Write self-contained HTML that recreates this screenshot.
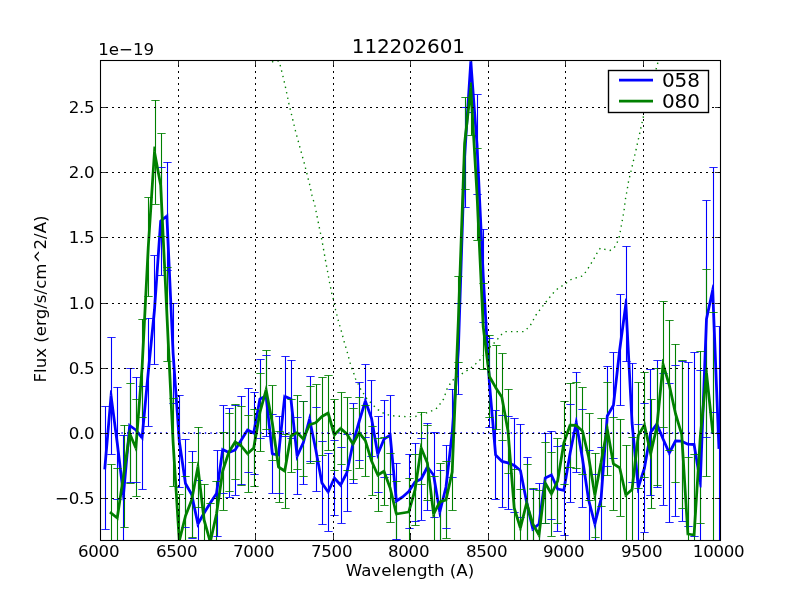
<!DOCTYPE html>
<html><head><meta charset="utf-8"><title>112202601</title>
<style>html,body{margin:0;padding:0;background:#fff}svg{display:block;will-change:transform}text{font-family:"DejaVu Sans","Liberation Sans",sans-serif;fill:#000}</style>
</head><body>
<svg width="800" height="600" viewBox="0 0 800 600">
<rect x="0" y="0" width="800" height="600" fill="#ffffff"/>
<defs><clipPath id="ax"><rect x="100" y="60" width="620" height="480"/></clipPath></defs>
<g clip-path="url(#ax)">
<path d="M105.50 406.50V529.50M111.50 337.40V454.40M117.50 387.00V499.00M123.50 435.00V555.00M130.50 368.50V482.50M136.50 377.50V482.50M142.50 386.20V489.40M148.50 318.00V426.00M154.50 255.50V364.50M161.50 167.00V275.00M167.50 162.00V270.00M173.50 303.00V403.00M179.50 395.00V487.00M185.50 439.50V527.50M192.50 451.00V538.00M198.50 480.00V568.00M217.50 450.40V536.40M223.50 405.50V493.50M229.50 408.00V497.00M235.50 405.00V495.00M241.50 396.00V484.00M248.50 388.00V472.00M254.50 392.00V474.00M260.50 359.40V438.60M266.50 355.40V436.60M272.50 414.60V493.20M279.50 416.50V493.50M285.50 356.60V436.20M291.50 360.00V438.00M297.50 417.70V494.70M303.50 401.00V484.40M310.50 376.50V461.50M316.50 407.50V491.50M322.50 441.30V524.70M328.50 453.00V531.00M334.50 440.30V515.70M341.50 447.00V523.00M347.50 434.30V511.70M353.50 403.60V483.60M359.50 382.50V460.50M365.50 364.50V437.50M371.50 380.50V456.50M378.50 416.60V492.00M384.50 400.60V477.80M390.50 395.80V474.60M396.50 463.00V539.00M409.50 454.20V528.80M415.50 443.00V521.00M421.50 438.00V520.00M427.50 423.60V510.40M434.50 432.50V517.50M440.50 470.00V554.00M446.50 445.50V528.50M452.50 389.00V477.00M458.50 303.50V394.50M465.50 107.00V207.00M471.50 10.50V112.50M477.50 94.90V194.10M483.50 229.00V322.00M489.50 338.40V427.40M495.50 410.50V499.50M502.50 415.20V507.40M508.50 416.30V509.50M514.50 418.40V512.40M520.50 424.00V517.00M527.50 457.40V546.60M533.50 489.40V568.60M539.50 483.40V564.60M545.50 433.00V523.00M551.50 431.00V519.00M557.50 446.50V531.50M564.50 445.40V535.40M570.50 404.50V502.30M576.50 372.50V472.50M582.50 409.50V507.50M589.50 450.00V550.00M595.50 474.00V574.00M601.50 447.00V551.00M607.50 366.00V466.00M613.50 352.40V458.00M620.50 294.50V405.50M626.50 246.20V361.80M632.50 363.40V482.60M638.50 424.50V550.50M644.50 403.50V532.50M650.50 369.40V495.40M657.50 360.40V487.60M663.50 373.00V505.00M669.50 383.50V522.50M675.50 365.50V516.50M682.50 361.40V521.00M688.50 362.40V526.00M694.50 352.50V536.50M700.50 370.40V593.60M706.50 200.50V437.50M713.50 167.50V412.50M719.50 326.50V568.50" stroke="#0000ff" stroke-width="1.1" fill="none"/>
<path d="M111.50 464.40V561.60M117.50 468.40V567.60M124.50 425.00V527.00M130.50 383.90V483.10M136.50 399.40V496.60M142.50 319.00V417.00M148.50 197.40V296.60M155.50 100.00V204.00M161.50 133.50V236.50M167.50 267.00V361.00M173.50 398.00V486.00M179.50 494.50V587.50M185.50 476.00V556.00M192.50 462.40V537.60M198.50 427.00V507.00M204.50 484.30V555.70M210.50 503.00V581.00M216.50 481.00V547.00M223.50 432.00V510.00M229.50 413.00V491.00M235.50 404.40V479.60M241.50 406.40V485.60M248.50 415.40V492.00M254.50 409.50V486.50M260.50 373.40V451.60M266.50 350.40V429.40M272.50 385.70V460.30M279.50 431.40V502.60M285.50 434.00V508.00M291.50 399.50V472.50M297.50 395.60V469.60M303.50 401.20V476.80M310.50 386.40V463.00M316.50 384.40V461.00M322.50 377.50V455.50M328.50 375.50V450.50M334.50 399.40V470.60M341.50 392.40V464.40M347.50 397.40V470.00M353.50 408.40V479.60M359.50 397.40V468.00M365.50 405.00V476.40M372.50 426.50V495.50M378.50 438.60V511.40M384.50 437.50V505.10M390.50 453.50V522.50M396.50 481.00V547.00M409.50 478.20V545.80M415.50 454.50V525.50M421.50 412.00V484.00M427.50 425.40V500.60M434.50 476.40V551.60M440.50 463.40V540.60M446.50 461.40V538.60M452.50 433.60V510.40M458.50 276.50V362.50M465.50 97.50V189.50M471.50 41.00V135.00M477.50 148.00V240.00M483.50 283.50V369.50M489.50 335.50V417.50M496.50 345.50V429.30M502.50 353.60V440.40M508.50 389.00V473.00M514.50 469.60V546.40M520.50 489.00V567.00M527.50 464.40V541.60M533.50 488.00V560.00M539.50 490.40V579.60M545.50 442.50V523.50M551.50 452.00V536.00M557.50 438.50V523.50M564.50 401.60V484.40M570.50 383.10V467.30M576.50 382.50V468.50M582.50 387.40V474.60M589.50 413.50V500.50M595.50 453.00V537.20M601.50 418.50V506.30M607.50 382.60V475.40M613.50 417.50V510.30M620.50 419.30V516.10M626.50 445.00V545.00M632.50 437.50V541.50M638.50 382.40V488.40M644.50 372.40V477.60M651.50 399.40V508.00M657.50 368.00V485.00M663.50 301.40V427.40M669.50 320.00V450.00M675.50 344.10V482.90M682.50 360.60V508.00M688.50 457.00V611.00M694.50 454.00V616.00M700.50 351.00V523.00M706.50 269.50V476.50M713.50 312.40V551.60" stroke="#008000" stroke-width="1.1" fill="none"/>
<polyline points="104.85,468.00 111.05,395.90 117.25,443.00 123.46,495.00 129.66,425.50 135.86,430.00 142.06,437.80 148.27,372.00 154.47,310.00 160.67,221.00 166.88,216.00 173.08,353.00 179.28,441.00 185.48,483.50 191.69,494.50 197.89,524.00 204.09,513.00 210.29,503.00 216.50,493.40 222.70,449.50 228.90,452.50 235.10,450.00 241.30,440.00 247.51,430.00 253.71,433.00 259.91,399.00 266.12,396.00 272.32,453.90 278.52,455.00 284.72,396.40 290.92,399.00 297.13,456.20 303.33,442.70 309.53,419.00 315.74,449.50 321.94,483.00 328.14,492.00 334.34,478.00 340.54,485.00 346.75,473.00 352.95,443.60 359.15,421.50 365.36,401.00 371.56,418.50 377.76,454.30 383.96,439.20 390.16,435.20 396.37,501.00 402.57,497.00 408.77,491.50 414.98,482.00 421.18,479.00 427.38,467.00 433.58,475.00 439.78,512.00 445.99,487.00 452.19,433.00 458.39,349.00 464.60,157.00 470.80,61.50 477.00,144.50 483.20,275.50 489.40,382.90 495.61,455.00 501.81,461.30 508.01,462.90 514.21,465.40 520.42,470.50 526.62,502.00 532.82,529.00 539.02,524.00 545.23,478.00 551.43,475.00 557.63,489.00 563.83,490.40 570.04,453.40 576.24,422.50 582.44,458.50 588.64,500.00 594.85,524.00 601.05,499.00 607.25,416.00 613.45,405.20 619.66,350.00 625.86,304.00 632.06,423.00 638.26,487.50 644.47,468.00 650.67,432.40 656.87,424.00 663.08,439.00 669.28,453.00 675.48,441.00 681.68,441.20 687.88,444.20 694.09,444.50 700.29,482.00 706.49,319.00 712.69,290.00 718.90,447.50" stroke="#0000ff" stroke-width="2.78" fill="none" stroke-linejoin="bevel" stroke-linecap="square"/>
<path d="M109.67 395.78L110.13 390.36L111.72 390.32L112.43 395.72ZM118.63 442.82L118.63 442.83L118.64 442.84ZM122.08 495.16L122.72 500.57L124.36 500.55L124.84 495.12ZM128.28 425.38L128.49 422.94L130.48 424.37ZM136.68 428.87L136.83 428.99L136.95 429.13ZM140.98 438.67L143.12 441.37L143.45 437.93ZM146.88 371.87L146.88 371.87L146.88 371.86ZM155.85 310.14L155.86 310.12L155.86 310.10ZM159.29 220.90L159.33 220.30L159.80 219.92ZM166.00 214.92L168.14 213.20L168.26 215.94ZM171.69 353.06L171.69 353.08L171.69 353.10ZM177.89 441.10L177.90 441.15L177.90 441.20ZM184.11 483.70L184.14 483.96L184.27 484.18ZM192.90 493.82L193.00 494.00L193.05 494.21ZM196.53 524.29L197.29 527.90L199.10 524.68ZM202.88 512.32L202.89 512.29L202.91 512.27ZM209.11 502.27L209.12 502.26L209.12 502.25ZM217.66 494.15L217.83 493.90L217.87 493.59ZM221.32 449.31L221.59 447.42L223.30 448.25ZM228.29 453.75L228.85 454.02L229.42 453.79ZM235.62 451.29L236.04 451.12L236.28 450.73ZM246.33 429.27L246.99 428.20L248.11 428.75ZM253.10 434.25L254.75 435.05L255.08 433.25ZM258.55 398.75L258.67 398.06L259.31 397.75ZM265.51 394.75L267.29 393.89L267.50 395.85ZM270.94 454.05L271.05 455.09L272.07 455.27ZM278.28 456.37L279.75 456.63L279.90 455.15ZM283.34 396.25L283.54 394.40L285.26 395.12ZM291.46 397.72L292.22 398.04L292.31 398.85ZM295.75 456.35L296.29 461.36L298.39 456.78ZM304.59 443.28L304.64 443.17L304.67 443.05ZM308.19 418.65L309.55 413.44L309.82 413.45L310.89 418.72ZM317.10 449.22L317.10 449.23L317.10 449.25ZM320.57 483.25L320.62 483.54L320.79 483.79ZM327.00 492.79L328.40 494.83L329.41 492.56ZM333.07 477.44L333.95 475.46L335.38 477.08ZM339.50 485.92L340.85 487.44L341.78 485.64ZM347.98 473.64L348.07 473.47L348.11 473.29ZM351.59 443.31L351.60 443.27L351.61 443.22ZM357.81 421.12L357.82 421.11L357.82 421.10ZM364.02 400.60L365.25 396.54L366.67 400.54ZM372.87 418.04L372.91 418.15L372.93 418.26ZM376.39 454.54L377.21 459.29L379.05 454.83ZM382.68 438.67L382.84 438.27L383.21 438.03ZM389.41 434.03L391.33 432.79L391.55 435.07ZM394.98 501.13L395.20 503.41L397.12 502.17ZM403.32 498.17L403.41 498.11L403.49 498.04ZM409.69 492.54L409.83 492.42L409.94 492.26ZM413.81 481.24L414.02 480.92L414.37 480.75ZM421.78 480.25L422.20 480.05L422.41 479.64ZM426.15 466.36L427.14 464.43L428.48 466.15ZM434.68 474.15L434.90 474.42L434.95 474.77ZM438.41 512.23L439.31 517.55L439.84 517.57L441.13 512.33ZM447.34 487.33L447.36 487.25L447.37 487.16ZM453.57 433.16L453.57 433.13L453.58 433.10ZM459.78 349.10L459.78 349.07L459.78 349.04ZM463.21 156.96L463.21 156.93L463.21 156.91ZM469.41 61.41L469.77 55.94L471.78 55.94L472.18 61.40ZM478.39 144.40L478.39 144.42L478.39 144.43ZM481.81 275.57L481.81 275.57L481.81 275.58ZM488.02 382.98L488.02 383.00L488.02 383.02ZM494.22 455.12L494.27 455.62L494.62 455.98ZM500.82 462.28L501.09 462.55L501.46 462.65ZM508.36 461.55L508.45 461.58L508.53 461.61ZM514.73 464.11L514.93 464.19L515.10 464.33ZM521.30 469.43L521.69 469.74L521.78 470.23ZM525.26 502.27L525.26 502.29L525.27 502.31ZM531.47 529.31L531.97 531.48L533.69 530.08ZM539.90 525.08L540.33 524.73L540.40 524.19ZM543.85 477.81L543.95 477.07L544.62 476.75ZM550.82 473.75L552.12 473.12L552.70 474.44ZM556.36 489.56L556.64 490.20L557.33 490.36ZM563.53 491.76L564.96 492.08L565.21 490.63ZM568.67 453.17L568.67 453.15L568.67 453.13ZM574.88 422.23L575.94 416.94L576.69 416.95L577.61 422.26ZM583.81 458.26L583.81 458.28L583.82 458.29ZM587.27 500.21L587.28 500.28L587.30 500.35ZM593.50 524.35L594.85 529.56L594.90 529.56L596.20 524.33ZM602.40 499.33L602.43 499.22L602.44 499.10ZM605.87 415.90L605.89 415.58L606.05 415.31ZM614.66 405.89L614.80 405.64L614.84 405.36ZM618.28 349.84L618.28 349.83L618.28 349.81ZM624.48 303.81L625.21 298.41L626.96 298.48L627.25 303.93ZM630.67 423.07L630.68 423.10L630.68 423.13ZM636.88 487.63L637.40 493.00L637.96 493.06L639.59 487.92ZM645.79 468.42L645.82 468.33L645.84 468.24ZM649.30 432.16L649.36 431.84L649.55 431.57ZM655.75 423.17L657.22 421.19L658.16 423.47ZM661.79 439.53L661.80 439.55L661.80 439.56ZM668.01 453.56L669.18 456.21L670.51 453.64ZM674.25 440.36L674.65 439.58L675.52 439.61ZM681.73 439.81L682.02 439.82L682.29 439.95ZM687.28 445.45L687.53 445.57L687.82 445.59ZM694.15 443.11L695.28 443.17L695.46 444.27ZM698.92 482.23L699.81 487.60L701.47 487.50L701.68 482.05ZM705.10 318.95L705.11 318.83L705.13 318.71ZM711.34 289.71L712.47 284.40L713.87 284.52L714.08 289.95Z" fill="#0000ff" stroke="none"/>
<path d="M101.33 406.5h8.34M101.33 529.5h8.34M107.33 337.5h8.34M107.33 454.5h8.34M113.33 387.5h8.34M113.33 499.5h8.34M119.33 435.5h8.34M119.33 555.5h8.34M126.33 368.5h8.34M126.33 482.5h8.34M132.33 377.5h8.34M132.33 482.5h8.34M138.33 386.5h8.34M138.33 489.5h8.34M144.33 318.5h8.34M144.33 426.5h8.34M150.33 255.5h8.34M150.33 364.5h8.34M157.33 167.5h8.34M157.33 275.5h8.34M163.33 162.5h8.34M163.33 270.5h8.34M169.33 303.5h8.34M169.33 403.5h8.34M175.33 395.5h8.34M175.33 487.5h8.34M181.33 439.5h8.34M181.33 527.5h8.34M188.33 451.5h8.34M188.33 538.5h8.34M194.33 480.5h8.34M194.33 568.5h8.34M213.33 450.5h8.34M213.33 536.5h8.34M219.33 405.5h8.34M219.33 493.5h8.34M225.33 408.5h8.34M225.33 497.5h8.34M231.33 405.5h8.34M231.33 495.5h8.34M237.33 396.5h8.34M237.33 484.5h8.34M244.33 388.5h8.34M244.33 472.5h8.34M250.33 392.5h8.34M250.33 474.5h8.34M256.33 359.5h8.34M256.33 438.5h8.34M262.33 355.5h8.34M262.33 436.5h8.34M268.33 414.5h8.34M268.33 493.5h8.34M275.33 416.5h8.34M275.33 493.5h8.34M281.33 356.5h8.34M281.33 436.5h8.34M287.33 360.5h8.34M287.33 438.5h8.34M293.33 417.5h8.34M293.33 494.5h8.34M299.33 401.5h8.34M299.33 484.5h8.34M306.33 376.5h8.34M306.33 461.5h8.34M312.33 407.5h8.34M312.33 491.5h8.34M318.33 441.5h8.34M318.33 524.5h8.34M324.33 453.5h8.34M324.33 531.5h8.34M330.33 440.5h8.34M330.33 515.5h8.34M337.33 447.5h8.34M337.33 523.5h8.34M343.33 434.5h8.34M343.33 511.5h8.34M349.33 403.5h8.34M349.33 483.5h8.34M355.33 382.5h8.34M355.33 460.5h8.34M361.33 364.5h8.34M361.33 437.5h8.34M367.33 380.5h8.34M367.33 456.5h8.34M374.33 416.5h8.34M374.33 492.5h8.34M380.33 400.5h8.34M380.33 477.5h8.34M386.33 395.5h8.34M386.33 474.5h8.34M392.33 463.5h8.34M392.33 539.5h8.34M405.33 454.5h8.34M405.33 528.5h8.34M411.33 443.5h8.34M411.33 521.5h8.34M417.33 438.5h8.34M417.33 520.5h8.34M423.33 423.5h8.34M423.33 510.5h8.34M430.33 432.5h8.34M430.33 517.5h8.34M436.33 470.5h8.34M436.33 554.5h8.34M442.33 445.5h8.34M442.33 528.5h8.34M448.33 389.5h8.34M448.33 477.5h8.34M454.33 303.5h8.34M454.33 394.5h8.34M461.33 107.5h8.34M461.33 207.5h8.34M467.33 10.5h8.34M467.33 112.5h8.34M473.33 94.5h8.34M473.33 194.5h8.34M479.33 229.5h8.34M479.33 322.5h8.34M485.33 338.5h8.34M485.33 427.5h8.34M491.33 410.5h8.34M491.33 499.5h8.34M498.33 415.5h8.34M498.33 507.5h8.34M504.33 416.5h8.34M504.33 509.5h8.34M510.33 418.5h8.34M510.33 512.5h8.34M516.33 424.5h8.34M516.33 517.5h8.34M523.33 457.5h8.34M523.33 546.5h8.34M529.33 489.5h8.34M529.33 568.5h8.34M535.33 483.5h8.34M535.33 564.5h8.34M541.33 433.5h8.34M541.33 523.5h8.34M547.33 431.5h8.34M547.33 519.5h8.34M553.33 446.5h8.34M553.33 531.5h8.34M560.33 445.5h8.34M560.33 535.5h8.34M566.33 404.5h8.34M566.33 502.5h8.34M572.33 372.5h8.34M572.33 472.5h8.34M578.33 409.5h8.34M578.33 507.5h8.34M585.33 450.5h8.34M585.33 550.5h8.34M591.33 474.5h8.34M591.33 574.5h8.34M597.33 447.5h8.34M597.33 551.5h8.34M603.33 366.5h8.34M603.33 466.5h8.34M609.33 352.5h8.34M609.33 458.5h8.34M616.33 294.5h8.34M616.33 405.5h8.34M622.33 246.5h8.34M622.33 361.5h8.34M628.33 363.5h8.34M628.33 482.5h8.34M634.33 424.5h8.34M634.33 550.5h8.34M640.33 403.5h8.34M640.33 532.5h8.34M646.33 369.5h8.34M646.33 495.5h8.34M653.33 360.5h8.34M653.33 487.5h8.34M659.33 373.5h8.34M659.33 505.5h8.34M665.33 383.5h8.34M665.33 522.5h8.34M671.33 365.5h8.34M671.33 516.5h8.34M678.33 361.5h8.34M678.33 521.5h8.34M684.33 362.5h8.34M684.33 526.5h8.34M690.33 352.5h8.34M690.33 536.5h8.34M696.33 370.5h8.34M696.33 593.5h8.34M702.33 200.5h8.34M702.33 437.5h8.34M709.33 167.5h8.34M709.33 412.5h8.34M715.33 326.5h8.34M715.33 568.5h8.34" stroke="#0000ff" stroke-width="1" stroke-opacity="0.85" fill="none"/>
<path d="M121.4 432.95H720" stroke="#0000ff" stroke-width="1.39" stroke-dasharray="1.39 4.17" fill="none"/>
<polyline points="111.05,513.00 117.25,518.00 123.46,476.00 129.66,433.50 135.86,448.00 142.06,368.00 148.27,247.00 154.47,152.00 160.67,185.00 166.88,314.00 173.08,442.00 179.28,541.00 185.48,516.00 191.69,500.00 197.89,467.00 204.09,520.00 210.29,542.00 216.50,514.00 222.70,471.00 228.90,452.00 235.10,442.00 241.30,446.00 247.51,453.70 253.71,448.00 259.91,412.50 266.12,389.90 272.32,423.00 278.52,467.00 284.72,471.00 290.92,436.00 297.13,432.60 303.33,439.00 309.53,424.70 315.74,422.70 321.94,416.50 328.14,413.00 334.34,435.00 340.54,428.40 346.75,433.70 352.95,444.00 359.15,432.70 365.36,440.70 371.56,461.00 377.76,475.00 383.96,471.30 390.16,488.00 396.37,514.00 402.57,513.00 408.77,512.00 414.98,490.00 421.18,448.00 427.38,463.00 433.58,514.00 439.78,502.00 445.99,500.00 452.19,472.00 458.39,319.50 464.60,143.50 470.80,88.00 477.00,194.00 483.20,326.50 489.40,376.50 495.61,387.40 501.81,397.00 508.01,431.00 514.21,508.00 520.42,528.00 526.62,503.00 532.82,524.00 539.02,535.00 545.23,483.00 551.43,494.00 557.63,481.00 563.83,443.00 570.04,425.20 576.24,425.50 582.44,431.00 588.64,457.00 594.85,495.10 601.05,462.40 607.25,429.00 613.45,463.90 619.66,467.70 625.86,495.00 632.06,489.50 638.26,435.40 644.47,425.00 650.67,453.70 656.87,426.50 663.08,364.40 669.28,385.00 675.48,413.50 681.68,434.30 687.88,534.00 694.09,535.00 700.29,437.00 706.49,373.00 712.69,432.00" stroke="#008000" stroke-width="2.78" fill="none" stroke-linejoin="bevel" stroke-linecap="square"/>
<path d="M116.38 519.08L118.27 520.61L118.63 518.20ZM124.83 476.20L124.83 476.20L124.83 476.20ZM128.28 433.30L129.00 428.42L130.94 432.95ZM134.58 448.55L136.70 453.50L136.83 453.48L137.25 448.11ZM143.45 368.11L143.45 368.09L143.45 368.07ZM146.88 246.93L146.88 246.92L146.88 246.91ZM153.08 151.91L153.44 146.49L154.83 146.41L155.84 151.74ZM162.04 184.74L162.06 184.84L162.06 184.93ZM165.49 314.07L165.49 314.07L165.49 314.07ZM171.69 442.07L171.69 442.08L171.69 442.09ZM177.89 541.09L178.23 546.49L179.33 546.59L180.63 541.33ZM184.13 515.67L184.15 515.58L184.19 515.50ZM192.98 500.50L193.03 500.38L193.05 500.26ZM196.52 466.74L197.52 461.42L198.64 461.46L199.27 466.84ZM202.71 520.16L202.72 520.27L202.75 520.38ZM208.95 542.38L210.42 547.56L210.49 547.56L211.65 542.30ZM217.85 514.30L217.86 514.25L217.87 514.20ZM221.32 470.80L221.34 470.68L221.38 470.57ZM227.58 451.57L227.63 451.41L227.72 451.27ZM233.92 441.27L234.67 440.07L235.86 440.83ZM242.06 444.83L242.25 444.95L242.39 445.13ZM246.43 454.57L247.36 455.73L248.45 454.72ZM254.65 449.02L255.00 448.70L255.08 448.24ZM258.54 412.26L258.55 412.20L258.57 412.13ZM264.77 389.53L266.20 384.34L266.49 384.35L267.48 389.64ZM273.68 422.74L273.69 422.77L273.69 422.81ZM277.14 467.19L277.23 467.82L277.77 468.17ZM283.97 472.17L285.73 473.30L286.09 471.24ZM289.56 435.76L289.67 435.10L290.26 434.78ZM296.46 431.38L297.39 430.87L298.13 431.63ZM302.33 439.97L303.78 441.46L304.61 439.55ZM308.26 424.15L308.51 423.57L309.11 423.38ZM316.16 424.02L316.48 423.92L316.72 423.68ZM320.95 415.52L321.09 415.38L321.25 415.29ZM327.46 411.79L329.00 410.92L329.48 412.62ZM333.00 435.38L333.67 437.74L335.36 435.95ZM339.53 427.45L340.44 426.48L341.45 427.34ZM347.65 432.64L347.82 432.79L347.94 432.98ZM351.76 444.72L353.01 446.79L354.17 444.67ZM357.93 432.03L358.95 430.17L360.25 431.85ZM366.45 439.85L366.61 440.05L366.68 440.29ZM370.23 461.41L370.25 461.49L370.29 461.56ZM376.49 475.56L377.12 477.00L378.47 476.19ZM383.25 470.11L384.68 469.25L385.27 470.82ZM391.47 487.52L391.50 487.60L391.52 487.68ZM395.02 514.32L395.31 515.58L396.59 515.37ZM408.99 513.37L409.87 513.23L410.11 512.38ZM416.31 490.38L416.34 490.29L416.35 490.20ZM419.80 447.80L420.54 442.82L422.46 447.47ZM428.66 462.47L428.74 462.64L428.76 462.83ZM432.20 514.17L432.75 518.64L434.82 514.64ZM438.55 501.36L438.81 500.85L439.36 500.68ZM446.41 501.32L447.17 501.08L447.34 500.30ZM453.55 472.30L453.57 472.18L453.58 472.06ZM459.78 319.56L459.78 319.55L459.78 319.55ZM463.21 143.45L463.21 143.40L463.21 143.35ZM469.42 87.85L470.02 82.42L471.87 82.47L472.19 87.92ZM478.39 193.92L478.39 193.93L478.39 193.94ZM481.81 326.56L481.82 326.62L481.82 326.67ZM488.03 376.67L488.06 376.95L488.20 377.19ZM494.40 388.09L494.42 388.12L494.44 388.15ZM502.98 396.25L503.13 396.48L503.18 396.75ZM509.38 430.75L509.39 430.82L509.40 430.89ZM512.83 508.11L512.84 508.26L512.89 508.41ZM519.09 528.41L520.57 533.17L521.77 528.33ZM525.27 502.67L526.50 497.70L527.95 502.61ZM531.49 524.39L531.53 524.55L531.61 524.68ZM537.81 535.68L539.90 539.39L540.41 535.16ZM543.85 482.84L544.35 478.61L546.44 482.32ZM550.22 494.68L551.53 497.01L552.68 494.60ZM558.89 481.60L558.97 481.42L559.00 481.22ZM562.46 442.78L562.48 442.66L562.52 442.54ZM568.72 424.74L569.07 423.76L570.10 423.81ZM576.31 424.11L576.80 424.14L577.16 424.46ZM583.36 429.96L583.69 430.25L583.79 430.68ZM590.00 456.68L590.01 456.73L590.02 456.78ZM593.48 495.32L594.34 500.65L595.21 500.67L596.21 495.36ZM602.42 462.66L602.42 462.66L602.42 462.65ZM605.89 428.75L606.87 423.44L607.68 423.44L608.62 428.76ZM612.09 464.14L612.20 464.76L612.73 465.09ZM620.38 466.51L620.88 466.82L621.01 467.39ZM624.50 495.31L625.02 497.60L626.78 496.04ZM632.98 490.54L633.38 490.19L633.44 489.66ZM636.88 435.24L636.92 434.94L637.07 434.69ZM643.27 424.29L645.08 421.26L645.83 424.71ZM649.31 453.99L650.45 459.26L650.83 459.26L652.03 454.01ZM658.23 426.81L658.25 426.72L658.26 426.64ZM661.69 364.26L662.23 358.90L662.85 358.84L664.41 364.00ZM670.61 384.60L670.62 384.65L670.64 384.70ZM674.12 413.80L674.13 413.85L674.15 413.90ZM683.01 433.90L683.06 434.06L683.07 434.21ZM686.50 534.09L686.57 535.20L687.66 535.37ZM693.87 536.37L695.38 536.62L695.47 535.09ZM698.90 436.91L698.90 436.89L698.91 436.87ZM705.11 372.87L705.63 367.44L707.31 367.44L707.87 372.85Z" fill="#008000" stroke="none"/>
<path d="M107.33 464.5h8.34M107.33 561.5h8.34M113.33 468.5h8.34M113.33 567.5h8.34M120.33 425.5h8.34M120.33 527.5h8.34M126.33 383.5h8.34M126.33 483.5h8.34M132.33 399.5h8.34M132.33 496.5h8.34M138.33 319.5h8.34M138.33 417.5h8.34M144.33 197.5h8.34M144.33 296.5h8.34M151.33 100.5h8.34M151.33 204.5h8.34M157.33 133.5h8.34M157.33 236.5h8.34M163.33 267.5h8.34M163.33 361.5h8.34M169.33 398.5h8.34M169.33 486.5h8.34M175.33 494.5h8.34M175.33 587.5h8.34M181.33 476.5h8.34M181.33 556.5h8.34M188.33 462.5h8.34M188.33 537.5h8.34M194.33 427.5h8.34M194.33 507.5h8.34M200.33 484.5h8.34M200.33 555.5h8.34M206.33 503.5h8.34M206.33 581.5h8.34M212.33 481.5h8.34M212.33 547.5h8.34M219.33 432.5h8.34M219.33 510.5h8.34M225.33 413.5h8.34M225.33 491.5h8.34M231.33 404.5h8.34M231.33 479.5h8.34M237.33 406.5h8.34M237.33 485.5h8.34M244.33 415.5h8.34M244.33 492.5h8.34M250.33 409.5h8.34M250.33 486.5h8.34M256.33 373.5h8.34M256.33 451.5h8.34M262.33 350.5h8.34M262.33 429.5h8.34M268.33 385.5h8.34M268.33 460.5h8.34M275.33 431.5h8.34M275.33 502.5h8.34M281.33 434.5h8.34M281.33 508.5h8.34M287.33 399.5h8.34M287.33 472.5h8.34M293.33 395.5h8.34M293.33 469.5h8.34M299.33 401.5h8.34M299.33 476.5h8.34M306.33 386.5h8.34M306.33 463.5h8.34M312.33 384.5h8.34M312.33 461.5h8.34M318.33 377.5h8.34M318.33 455.5h8.34M324.33 375.5h8.34M324.33 450.5h8.34M330.33 399.5h8.34M330.33 470.5h8.34M337.33 392.5h8.34M337.33 464.5h8.34M343.33 397.5h8.34M343.33 470.5h8.34M349.33 408.5h8.34M349.33 479.5h8.34M355.33 397.5h8.34M355.33 468.5h8.34M361.33 405.5h8.34M361.33 476.5h8.34M368.33 426.5h8.34M368.33 495.5h8.34M374.33 438.5h8.34M374.33 511.5h8.34M380.33 437.5h8.34M380.33 505.5h8.34M386.33 453.5h8.34M386.33 522.5h8.34M392.33 481.5h8.34M392.33 547.5h8.34M405.33 478.5h8.34M405.33 545.5h8.34M411.33 454.5h8.34M411.33 525.5h8.34M417.33 412.5h8.34M417.33 484.5h8.34M423.33 425.5h8.34M423.33 500.5h8.34M430.33 476.5h8.34M430.33 551.5h8.34M436.33 463.5h8.34M436.33 540.5h8.34M442.33 461.5h8.34M442.33 538.5h8.34M448.33 433.5h8.34M448.33 510.5h8.34M454.33 276.5h8.34M454.33 362.5h8.34M461.33 97.5h8.34M461.33 189.5h8.34M467.33 41.5h8.34M467.33 135.5h8.34M473.33 148.5h8.34M473.33 240.5h8.34M479.33 283.5h8.34M479.33 369.5h8.34M485.33 335.5h8.34M485.33 417.5h8.34M492.33 345.5h8.34M492.33 429.5h8.34M498.33 353.5h8.34M498.33 440.5h8.34M504.33 389.5h8.34M504.33 473.5h8.34M510.33 469.5h8.34M510.33 546.5h8.34M516.33 489.5h8.34M516.33 567.5h8.34M523.33 464.5h8.34M523.33 541.5h8.34M529.33 488.5h8.34M529.33 560.5h8.34M535.33 490.5h8.34M535.33 579.5h8.34M541.33 442.5h8.34M541.33 523.5h8.34M547.33 452.5h8.34M547.33 536.5h8.34M553.33 438.5h8.34M553.33 523.5h8.34M560.33 401.5h8.34M560.33 484.5h8.34M566.33 383.5h8.34M566.33 467.5h8.34M572.33 382.5h8.34M572.33 468.5h8.34M578.33 387.5h8.34M578.33 474.5h8.34M585.33 413.5h8.34M585.33 500.5h8.34M591.33 453.5h8.34M591.33 537.5h8.34M597.33 418.5h8.34M597.33 506.5h8.34M603.33 382.5h8.34M603.33 475.5h8.34M609.33 417.5h8.34M609.33 510.5h8.34M616.33 419.5h8.34M616.33 516.5h8.34M622.33 445.5h8.34M622.33 545.5h8.34M628.33 437.5h8.34M628.33 541.5h8.34M634.33 382.5h8.34M634.33 488.5h8.34M640.33 372.5h8.34M640.33 477.5h8.34M647.33 399.5h8.34M647.33 508.5h8.34M653.33 368.5h8.34M653.33 485.5h8.34M659.33 301.5h8.34M659.33 427.5h8.34M665.33 320.5h8.34M665.33 450.5h8.34M671.33 344.5h8.34M671.33 482.5h8.34M678.33 360.5h8.34M678.33 508.5h8.34M684.33 457.5h8.34M684.33 611.5h8.34M690.33 454.5h8.34M690.33 616.5h8.34M696.33 351.5h8.34M696.33 523.5h8.34M702.33 269.5h8.34M702.33 476.5h8.34M709.33 312.5h8.34M709.33 551.5h8.34" stroke="#008000" stroke-width="1" stroke-opacity="0.85" fill="none"/>
<polyline points="268,52 271.25,61.9 278.75,61 280.4,66 283.1,76.9 285.6,87.75 289,104 292.9,120.25 295.5,131 299.8,147 304.2,163 307,174 309.6,184.4 312,195.4 315,206 317.2,217 319.4,228 321.6,238.6 323.6,249.6 325.6,261 327.6,271.6 329.6,282.6 331.8,293.6 333.4,299.3 335.6,310 338.4,321 341.6,332 344.4,342.6 347.6,353.4 350.4,364 352,369 354,374 355.6,379 358,383.6 360,388 367,399 374,406 378,409.6 383,413 390,415.5 395,416 405,416.6 415,416.6 422,414.5 430,411.5 436,409 440,404 443.6,399 447,389 450,384 453,380 460,375 464,372.4 468,370 472,367 476,363.6 479.6,360.4 490,347 496,341 502,334 506,331.6 524,331.6 530,326 536,315 542,307 551,295.6 555,291 559,287.6 564,285 568,281.6 572,279 577,277.6 582.4,276 586,271.6 589,267 592,262 595,257 597.6,252 600.4,248 605,249.4 610,250.4 614,248 617,243 619,238 620,233 621,227.4 622,222 623,216.4 624,211 625.4,199.4 627.4,188.6 628.2,183 636,150 643.75,115 657.5,64 660,54" stroke="#008000" stroke-width="1.39" stroke-dasharray="1.39 4.17" fill="none"/>
</g>
<path d="M178.50 541V60M255.50 541V60M333.50 541V60M410.50 541V60M488.50 541V60M565.50 541V60M643.50 541V60M100 498.50H720M100 433.50H720M100 368.50H720M100 303.50H720M100 237.50H720M100 172.50H720M100 107.50H720" stroke="#000" stroke-width="1" stroke-dasharray="2 4" fill="none"/>
<path d="M100.50 540.5v-5.56M100.50 60.5v5.56M178.50 540.5v-5.56M178.50 60.5v5.56M255.50 540.5v-5.56M255.50 60.5v5.56M333.50 540.5v-5.56M333.50 60.5v5.56M410.50 540.5v-5.56M410.50 60.5v5.56M488.50 540.5v-5.56M488.50 60.5v5.56M565.50 540.5v-5.56M565.50 60.5v5.56M643.50 540.5v-5.56M643.50 60.5v5.56M720.50 540.5v-5.56M720.50 60.5v5.56M100.5 498.50h5.56M720.5 498.50h-5.56M100.5 433.50h5.56M720.5 433.50h-5.56M100.5 368.50h5.56M720.5 368.50h-5.56M100.5 303.50h5.56M720.5 303.50h-5.56M100.5 237.50h5.56M720.5 237.50h-5.56M100.5 172.50h5.56M720.5 172.50h-5.56M100.5 107.50h5.56M720.5 107.50h-5.56" stroke="#000" stroke-width="0.8" fill="none"/>
<rect x="100.5" y="60.5" width="620" height="480" fill="none" stroke="#000" stroke-width="1.1"/>
<rect x="608.5" y="70.5" width="100" height="42" fill="#fff" stroke="#000" stroke-width="1.39"/>
<path d="M619 80.2H653" stroke="#0000ff" stroke-width="2.78"/>
<path d="M619 101.2H653" stroke="#008000" stroke-width="2.78"/>
<text x="661.9" y="87.3" font-size="20">058</text>
<text x="661.9" y="108.3" font-size="20">080</text>
<text x="408.3" y="52.6" font-size="20" text-anchor="middle" letter-spacing="-0.18">112202601</text>
<text x="98.2" y="55" font-size="16.67">1e−19</text>
<text x="98.60" y="556.8" font-size="16.67" text-anchor="middle" letter-spacing="-0.3">6000</text>
<text x="176.60" y="556.8" font-size="16.67" text-anchor="middle" letter-spacing="-0.3">6500</text>
<text x="253.60" y="556.8" font-size="16.67" text-anchor="middle" letter-spacing="-0.3">7000</text>
<text x="331.60" y="556.8" font-size="16.67" text-anchor="middle" letter-spacing="-0.3">7500</text>
<text x="408.60" y="556.8" font-size="16.67" text-anchor="middle" letter-spacing="-0.3">8000</text>
<text x="486.60" y="556.8" font-size="16.67" text-anchor="middle" letter-spacing="-0.3">8500</text>
<text x="563.60" y="556.8" font-size="16.67" text-anchor="middle" letter-spacing="-0.3">9000</text>
<text x="641.60" y="556.8" font-size="16.67" text-anchor="middle" letter-spacing="-0.3">9500</text>
<text x="718.60" y="556.8" font-size="16.67" text-anchor="middle" letter-spacing="-0.3">10000</text>
<text x="94.3" y="503.80" font-size="16.67" text-anchor="end" letter-spacing="-0.3">−0.5</text>
<text x="94.3" y="438.80" font-size="16.67" text-anchor="end" letter-spacing="-0.3">0.0</text>
<text x="94.3" y="373.80" font-size="16.67" text-anchor="end" letter-spacing="-0.3">0.5</text>
<text x="94.3" y="308.80" font-size="16.67" text-anchor="end" letter-spacing="-0.3">1.0</text>
<text x="94.3" y="242.80" font-size="16.67" text-anchor="end" letter-spacing="-0.3">1.5</text>
<text x="94.3" y="177.80" font-size="16.67" text-anchor="end" letter-spacing="-0.3">2.0</text>
<text x="94.3" y="112.80" font-size="16.67" text-anchor="end" letter-spacing="-0.3">2.5</text>
<text x="410" y="575.7" font-size="16.67" text-anchor="middle">Wavelength (A)</text>
<text transform="translate(46,299) rotate(-90)" font-size="16.67" text-anchor="middle">Flux (erg/s/cm^2/A)</text>
</svg></body></html>
